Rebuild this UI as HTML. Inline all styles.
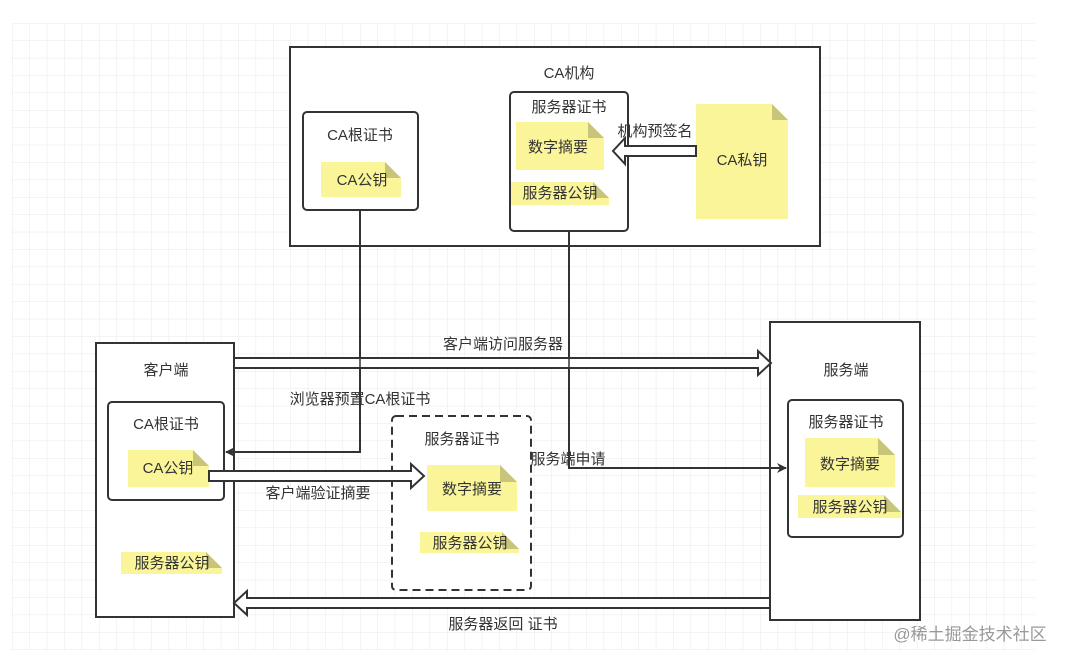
<!DOCTYPE html>
<html><head><meta charset="utf-8"><style>
html,body{margin:0;padding:0;background:#fff;width:1069px;height:665px;overflow:hidden}
svg text{font-family:"Liberation Sans","Noto Sans CJK SC",sans-serif;font-size:15px;fill:#333}
</style></head><body>
<svg width="1069" height="665" viewBox="0 0 1069 665" xmlns="http://www.w3.org/2000/svg">
<defs>
<pattern id="g" x="12" y="23" width="17.4" height="17.4" patternUnits="userSpaceOnUse">
<path d="M0 0H17.4M0 0V17.4" stroke="#e8e8e8" stroke-width="1" fill="none"/>
</pattern>
<marker id="ah" markerWidth="10" markerHeight="10" refX="9" refY="5" orient="auto" markerUnits="userSpaceOnUse">
<path d="M0,0 L10,5 L0,10 L3,5 Z" fill="#333"/>
</marker>
</defs>
<rect x="12" y="23" width="1023" height="627" fill="url(#g)"/>

<!-- CA机构 -->
<rect x="290" y="47" width="530" height="199" fill="#fff" stroke="#333" stroke-width="2"/>
<text x="569" y="78" text-anchor="middle">CA机构</text>
<rect x="303" y="112" width="115" height="98" rx="4" fill="#fff" stroke="#333" stroke-width="2"/>
<text x="360" y="140" text-anchor="middle">CA根证书</text>
<path d="M321 162H385L401 178V197H321Z" fill="#fbf59a"/><path d="M385 162L401 178H385Z" fill="#c8c47a"/>
<text x="362" y="185" text-anchor="middle">CA公钥</text>

<rect x="510" y="92" width="118" height="139" rx="4" fill="#fff" stroke="#333" stroke-width="2"/>
<text x="569" y="112" text-anchor="middle">服务器证书</text>
<path d="M516 122H588L604 138V170H516Z" fill="#fbf59a"/><path d="M588 122L604 138H588Z" fill="#c8c47a"/>
<text x="558" y="152" text-anchor="middle">数字摘要</text>
<path d="M511 182H593L609 198V205H511Z" fill="#fbf59a"/><path d="M593 182L609 198H593Z" fill="#c8c47a"/>
<text x="560" y="198" text-anchor="middle">服务器公钥</text>

<path d="M696 104H772L788 120V219H696Z" fill="#fbf59a"/><path d="M772 104L788 120H772Z" fill="#c8c47a"/>
<text x="742" y="165" text-anchor="middle">CA私钥</text>

<path d="M696 146H625V138L613 151L625 164V156H696Z" fill="#fff" stroke="#333" stroke-width="2"/>
<text x="655" y="136" text-anchor="middle">机构预签名</text>

<!-- connectors -->
<path d="M360 210V452H226" fill="none" stroke="#333" stroke-width="2" marker-end="url(#ah)"/>
<path d="M569 231V468H786" fill="none" stroke="#333" stroke-width="2" marker-end="url(#ah)"/>

<!-- client -->
<rect x="96" y="343" width="138" height="274" fill="#fff" stroke="#333" stroke-width="2"/>
<text x="166" y="375" text-anchor="middle">客户端</text>
<rect x="108" y="402" width="116" height="98" rx="4" fill="#fff" stroke="#333" stroke-width="2"/>
<text x="166" y="429" text-anchor="middle">CA根证书</text>
<path d="M128 450H193L209 466V487H128Z" fill="#fbf59a"/><path d="M193 450L209 466H193Z" fill="#c8c47a"/>
<text x="168" y="473" text-anchor="middle">CA公钥</text>
<path d="M121 552H206L222 568V574H121Z" fill="#fbf59a"/><path d="M206 552L222 568H206Z" fill="#c8c47a"/>
<text x="172" y="568" text-anchor="middle">服务器公钥</text>
<path d="M360 440V452H226" fill="none" stroke="#333" stroke-width="2" marker-end="url(#ah)"/>

<!-- server -->
<rect x="770" y="322" width="150" height="298" fill="#fff" stroke="#333" stroke-width="2"/>
<text x="846" y="375" text-anchor="middle">服务端</text>
<rect x="788" y="400" width="115" height="137" rx="4" fill="#fff" stroke="#333" stroke-width="2"/>
<text x="846" y="427" text-anchor="middle">服务器证书</text>
<path d="M805 438H878L895 455V487H805Z" fill="#fbf59a"/><path d="M878 438L895 455H878Z" fill="#c8c47a"/>
<text x="850" y="469" text-anchor="middle">数字摘要</text>
<path d="M798 495H884L901 512V518H798Z" fill="#fbf59a"/><path d="M884 495L901 512H884Z" fill="#c8c47a"/>
<text x="850" y="512" text-anchor="middle">服务器公钥</text>
<path d="M770 468H786" stroke="#333" stroke-width="2" marker-end="url(#ah)"/>

<!-- dashed cert -->
<rect x="392" y="416" width="139" height="174" rx="4" fill="#fff" stroke="#333" stroke-width="2" stroke-dasharray="8,5"/>
<text x="462" y="444" text-anchor="middle">服务器证书</text>
<path d="M427 465H500L517 482V511H427Z" fill="#fbf59a"/><path d="M500 465L517 482H500Z" fill="#c8c47a"/>
<text x="472" y="494" text-anchor="middle">数字摘要</text>
<path d="M420 532H502L519 549V553H420Z" fill="#fbf59a"/><path d="M502 532L519 549H502Z" fill="#c8c47a"/>
<text x="470" y="548" text-anchor="middle">服务器公钥</text>

<!-- hollow arrows -->
<path d="M234 358H758V351L771 363L758 375V368H234Z" fill="#fff" stroke="#333" stroke-width="2"/>
<path d="M360 358V368" stroke="#333" stroke-width="1.5"/>
<path d="M569 358V368" stroke="#333" stroke-width="1.5"/>
<text x="503" y="349" text-anchor="middle">客户端访问服务器</text>

<path d="M209 471H411V464L424 476L411 488V481H209Z" fill="#fff" stroke="#333" stroke-width="2"/>
<text x="318" y="498" text-anchor="middle">客户端验证摘要</text>

<path d="M770 598H247V591L234 603L247 615V608H770Z" fill="#fff" stroke="#333" stroke-width="2"/>
<text x="503" y="629" text-anchor="middle">服务器返回 证书</text>

<text x="360" y="404" text-anchor="middle">浏览器预置CA根证书</text>
<text x="568" y="464" text-anchor="middle">服务端申请</text>

<text x="970" y="640" text-anchor="middle" style="font-size:17px;fill:#999">@稀土掘金技术社区</text>
</svg>
</body></html>
